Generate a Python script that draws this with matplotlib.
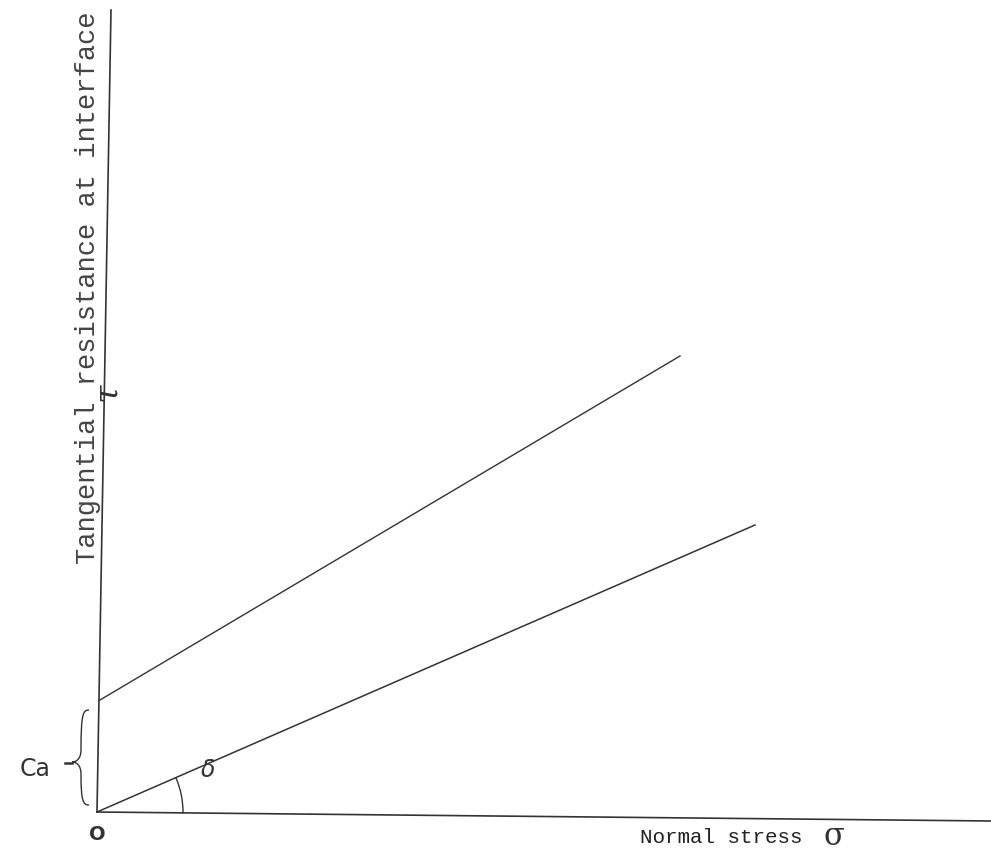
import numpy as np
import matplotlib.pyplot as plt
from matplotlib.patches import Arc, PathPatch
from matplotlib.path import Path

# Diagram data (units: drawing px, origin at O)
sigma_upper = [3, 583]
tau_upper = [112, 456]
sigma_lower = [0, 658]
tau_lower = [0, 287]
y_axis_x = [0, 14]
y_axis_y = [0, 802]
x_axis_x = [0, 894]
x_axis_y = [0, -9]

ink = "#333333"
mono = ["Liberation Mono", "DejaVu Sans Mono"]

fig = plt.figure(figsize=(9.91, 8.55), dpi=100)
ax = fig.add_axes([0, 0, 1, 1])
ax.set_xlim(-97, 894)
ax.set_ylim(-43, 812)
ax.axis("off")

# axes lines, drawn by hand in the original
ax.plot(y_axis_x, y_axis_y, color=ink, lw=1.2)
ax.plot(x_axis_x, x_axis_y, color=ink, lw=1.2)

ax.plot(sigma_upper, tau_upper, color=ink, lw=1.0)
ax.plot(sigma_lower, tau_lower, color=ink, lw=1.1)

# angle delta
delta = np.degrees(np.arctan2(tau_lower[1], sigma_lower[1]))
ax.add_patch(Arc((0, 0), 172, 172, theta1=-1, theta2=delta, color=ink, lw=1.0))
ax.text(111, 42, r"$\delta$", fontsize=17, color=ink, ha="center", va="center")

# brace for Ca
y0, y1, xb = 7, 102, -16
ym = 50
verts = [(-8, y1), (-14, y1), (xb, y1 - 4), (xb, ym + 12),
         (xb, ym + 4), (-20, ym), (-25, ym),
         (-20, ym), (xb, ym - 4), (xb, ym - 12),
         (xb, y0 + 4), (-14, y0), (-8, y0)]
codes = [Path.MOVETO, Path.CURVE4, Path.CURVE4, Path.CURVE4,
         Path.CURVE4, Path.CURVE4, Path.CURVE4,
         Path.CURVE4, Path.CURVE4, Path.CURVE4,
         Path.CURVE4, Path.CURVE4, Path.CURVE4]
ax.add_patch(PathPatch(Path(verts, codes), fill=False, color=ink, lw=1.0))
ax.plot([-32, -25], [49, 49], color=ink, lw=1.8)
ax.text(-62, 43, "Ca", fontsize=17, color=ink, ha="center", va="center",
        family="DejaVu Sans")

ax.text(0, -22, "O", fontsize=14, color=ink, ha="center", va="center",
        fontweight="bold")

# labels
ax.text(-9, 524, "Tangential resistance at interface", rotation=90,
        fontsize=19.5, color="#444444", ha="center", va="center", family=mono)
ax.text(10, 420, "τ", fontsize=24, color=ink, ha="center", va="center",
        rotation=90, family="DejaVu Serif", style="italic")
ax.text(624, -25, "Normal stress", fontsize=15, color="#222222", ha="center",
        va="center", family=mono)
ax.text(737, -24, "σ", fontsize=22, color=ink, ha="center", va="center",
        family="DejaVu Serif")

fig.savefig("out.png", dpi=100, facecolor="white")
